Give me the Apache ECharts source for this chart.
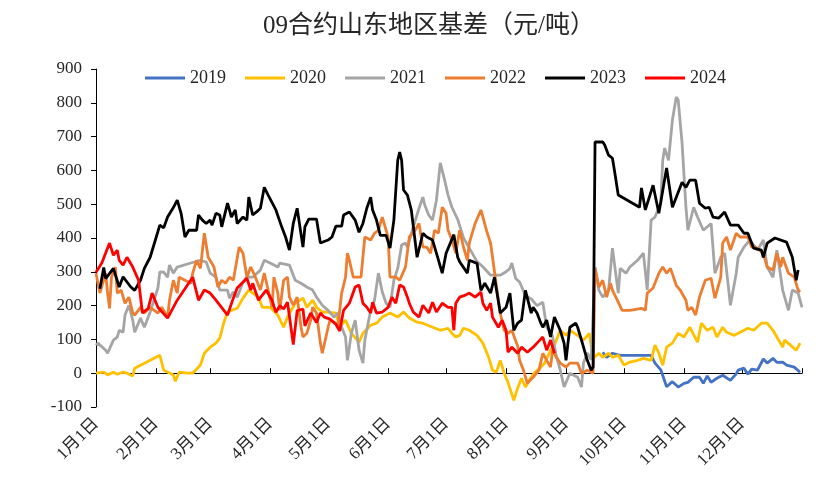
<!DOCTYPE html>
<html><head><meta charset="utf-8">
<script src="https://cdn.jsdelivr.net/npm/echarts@6/dist/echarts.min.js"></script>
<style>html,body{margin:0;padding:0;background:#fff}#c{width:832px;height:496px}</style>
</head><body><div id="c"></div>
<script>
// x = day of year (0 = 1月1日), y = 基差 元/吨
const years = ['2019','2020','2021','2022','2023','2024'];
const colors = ['#4472C4','#FFC000','#A5A5A5','#ED7D31','#000000','#FF0000'];
const monthStarts = [0,31,59,90,120,151,181,212,243,273,304,334];
const tickDays = [0,31,59,90,120,151,181,212,243,273,304,334,365];
const yTicks = [-100,0,100,200,300,400,500,600,700,800,900];

const s2019 = [[262,62],[264,47],[267,59],[271,53],[287,53],[289,30],[292,10],[295,-40],[298,-25],[301,-41],[304,-30],[306,-27],[309,-12],[312,-12],[314,-30],[316,-8],[318,-27],[321,-15],[324,-6],[328,-21],[331,-2],[332,9],[335,15],[337,-3],[339,12],[342,9],[345,42],[347,30],[350,44],[352,32],[355,33],[357,24],[361,18],[364,3]];

const s2020 = [[0,0],[1,-5],[4,3],[6,-5],[9,3],[11,-3],[14,3],[16,0],[19,-8],[20,15],[33,53],[35,9],[40,-5],[41,-24],[43,3],[47,0],[50,0],[54,24],[56,59],[59,77],[62,89],[64,104],[66,148],[68,181],[69,178],[73,192],[76,222],[79,246],[81,237],[84,225],[86,195],[90,195],[94,172],[97,136],[99,166],[103,207],[107,222],[109,195],[112,216],[114,195],[117,181],[120,181],[124,178],[126,136],[129,157],[132,118],[136,92],[138,118],[142,142],[145,148],[148,166],[152,178],[156,166],[159,181],[162,163],[166,151],[169,148],[174,136],[178,127],[182,133],[184,118],[186,107],[188,112],[190,133],[193,127],[197,112],[200,89],[203,47],[205,9],[207,3],[209,38],[211,0],[213,-27],[216,-80],[218,-44],[220,-15],[222,-41],[225,-12],[227,3],[230,18],[232,30],[235,68],[237,83],[240,127],[243,112],[245,127],[249,112],[252,98],[255,118],[257,44],[260,59],[262,47],[265,59],[267,47],[270,53],[273,24],[276,33],[280,38],[283,44],[287,38],[289,83],[291,59],[293,24],[295,77],[298,89],[301,118],[304,107],[307,136],[311,92],[313,148],[316,127],[319,136],[321,107],[324,136],[326,121],[330,112],[333,121],[337,133],[340,127],[344,148],[347,148],[350,127],[352,107],[355,77],[356,98],[359,83],[362,68],[364,89]];

const s2021 = [[0,83],[1,89],[5,68],[6,59],[9,98],[11,107],[12,127],[14,121],[15,172],[17,201],[19,157],[20,121],[23,163],[25,136],[28,181],[32,252],[33,300],[35,299],[37,284],[38,320],[40,296],[42,314],[49,326],[54,334],[57,329],[59,296],[62,284],[64,246],[68,246],[69,222],[71,240],[73,225],[76,269],[78,284],[81,284],[85,305],[87,334],[90,326],[94,314],[95,326],[100,320],[103,275],[106,266],[109,255],[112,246],[114,225],[117,201],[120,186],[123,166],[125,178],[127,136],[129,107],[130,38],[132,118],[134,157],[136,68],[138,30],[139,98],[142,186],[144,216],[146,296],[148,240],[150,207],[152,195],[154,275],[156,310],[158,379],[160,385],[161,373],[164,432],[167,488],[169,521],[170,497],[172,468],[174,453],[176,512],[178,622],[180,577],[182,527],[184,491],[187,455],[190,400],[193,370],[197,330],[200,315],[204,290],[207,290],[209,290],[212,300],[214,310],[215,326],[217,280],[219,270],[222,230],[225,220],[228,200],[231,210],[233,136],[236,110],[238,50],[240,10],[242,-41],[245,0],[249,-12],[251,-41],[252,30],[254,60],[256,40],[258,314],[260,245],[262,225],[265,246],[267,370],[270,237],[271,310],[274,296],[276,314],[280,334],[283,355],[285,246],[287,453],[289,462],[292,503],[293,630],[294,666],[296,630],[298,749],[300,817],[301,808],[303,681],[305,491],[306,423],[309,491],[311,462],[314,423],[318,443],[320,296],[323,343],[325,355],[328,201],[331,296],[332,343],[335,373],[338,394],[342,364],[345,394],[347,314],[350,284],[352,364],[355,246],[358,186],[360,246],[363,237],[365,195]];

const s2022 = [[0,296],[2,237],[5,296],[6,237],[7,192],[8,284],[10,314],[11,237],[13,246],[15,207],[17,225],[19,178],[20,172],[23,195],[25,178],[28,195],[32,178],[34,195],[37,166],[38,216],[40,275],[42,237],[43,284],[46,275],[49,266],[50,296],[52,334],[54,310],[56,414],[58,343],[61,314],[63,255],[65,275],[67,266],[69,284],[71,275],[74,373],[76,355],[78,284],[80,314],[82,290],[85,246],[87,296],[89,246],[91,195],[92,284],[94,237],[95,186],[97,275],[99,284],[100,225],[102,201],[104,225],[106,136],[107,107],[109,118],[111,157],[112,195],[114,178],[116,89],[117,59],[120,136],[121,157],[124,148],[125,136],[127,237],[129,284],[130,355],[131,334],[133,284],[137,284],[139,403],[142,394],[144,414],[146,423],[148,462],[151,403],[152,284],[155,284],[157,275],[160,314],[162,403],[165,423],[167,443],[169,373],[171,373],[173,355],[175,423],[177,414],[179,491],[181,473],[182,423],[184,394],[186,355],[188,423],[190,373],[192,334],[193,385],[196,443],[199,483],[202,420],[204,385],[205,343],[207,260],[209,178],[211,127],[213,118],[215,127],[218,80],[219,38],[221,9],[223,-30],[226,-12],[229,9],[231,59],[233,38],[235,18],[236,68],[238,47],[240,30],[243,18],[245,30],[249,30],[251,0],[254,9],[257,0],[258,310],[260,255],[262,275],[264,225],[266,266],[267,246],[270,210],[272,186],[276,186],[282,192],[284,186],[285,237],[288,252],[291,296],[293,314],[295,296],[297,310],[300,260],[302,246],[305,216],[306,186],[308,195],[310,172],[312,225],[315,275],[318,281],[320,222],[323,284],[324,385],[326,403],[328,364],[331,414],[333,403],[337,403],[339,373],[341,373],[345,355],[347,314],[350,305],[352,355],[354,314],[355,343],[358,296],[361,284],[363,246],[364,240]];

const s2023 = [[2,250],[4,313],[5,280],[6,280],[9,310],[12,255],[14,285],[18,255],[20,245],[23,275],[25,310],[28,343],[31,400],[33,438],[35,430],[37,462],[40,490],[42,512],[44,473],[46,403],[48,423],[52,423],[53,468],[55,453],[57,443],[59,453],[60,438],[62,473],[64,468],[65,433],[68,503],[69,483],[70,462],[72,483],[73,443],[76,462],[78,453],[79,521],[81,468],[83,477],[85,488],[87,550],[89,527],[93,483],[96,433],[98,403],[100,364],[102,443],[104,488],[107,373],[108,433],[110,456],[114,456],[116,385],[120,394],[122,403],[124,435],[127,435],[128,468],[131,477],[134,453],[136,417],[138,443],[140,488],[142,521],[143,483],[145,453],[147,408],[150,408],[152,370],[154,453],[156,630],[157,654],[158,630],[159,542],[161,527],[163,483],[166,343],[169,414],[171,403],[174,394],[176,355],[179,296],[181,355],[185,410],[187,343],[188,330],[192,296],[193,334],[197,325],[199,245],[201,266],[204,237],[206,284],[209,178],[212,195],[214,237],[216,127],[218,148],[220,157],[222,245],[225,178],[226,195],[228,178],[230,148],[231,136],[233,157],[235,107],[237,166],[240,127],[242,89],[243,38],[244,89],[245,136],[248,148],[249,136],[251,98],[254,38],[256,9],[257,18],[258,684],[262,684],[263,675],[265,645],[267,636],[268,601],[270,527],[281,491],[282,548],[284,483],[288,556],[291,473],[295,607],[298,491],[303,565],[305,550],[307,571],[310,571],[312,503],[315,488],[317,491],[319,462],[322,459],[325,477],[328,438],[332,438],[335,414],[337,414],[340,370],[344,364],[345,343],[347,385],[351,400],[357,388],[360,343],[362,275],[363,305]];

const s2024 = [[0,299],[3,326],[7,385],[9,349],[11,364],[12,334],[14,320],[16,343],[19,314],[22,275],[24,178],[27,192],[29,237],[32,195],[37,163],[42,216],[50,284],[53,216],[56,246],[59,237],[62,216],[68,172],[71,222],[73,252],[78,281],[80,246],[81,266],[84,216],[88,246],[91,216],[93,180],[95,200],[97,190],[99,210],[102,85],[104,185],[107,190],[108,140],[111,178],[114,150],[116,178],[118,166],[121,160],[124,145],[126,125],[128,186],[131,207],[134,255],[136,261],[138,207],[140,195],[142,178],[143,210],[145,178],[148,181],[151,195],[153,225],[155,207],[157,261],[159,255],[161,225],[162,207],[164,181],[167,166],[169,201],[172,178],[174,210],[176,181],[179,207],[182,195],[184,195],[185,127],[186,207],[188,225],[191,231],[193,237],[196,225],[199,240],[200,207],[202,186],[204,207],[205,166],[208,136],[210,157],[212,127],[213,62],[215,77],[218,59],[220,77],[223,62],[226,77],[228,89],[231,107],[233,68],[235,98],[237,59]];

const seriesData = [s2019, s2020, s2021, s2022, s2023, s2024];
const FONT = "'Liberation Serif', 'Noto Sans CJK SC', serif";
const TXT = '#262626';

const chart = echarts.init(document.getElementById('c'), null, {renderer: 'canvas'});
chart.setOption({
  animation: false,
  backgroundColor: '#fff',
  title: {
    text: '09合约山东地区基差（元/吨）',
    left: 424, textAlign: 'center', top: 9,
    textStyle: {fontFamily: FONT, fontSize: 25, fontWeight: 'normal', color: TXT}
  },
  legend: {
    data: years, top: 64, left: 140, icon: 'rect', itemWidth: 40, itemHeight: 3, itemGap: 19,
    textStyle: {fontFamily: FONT, fontSize: 18, color: TXT}
  },
  grid: {left: 96, right: 30, top: 69, bottom: 89},
  xAxis: [{
    type: 'value', min: 0, max: 365, position: 'bottom',
    axisLine: {show: false, onZero: false}, axisTick: {show: false}, splitLine: {show: false},
    axisLabel: {
      customValues: monthStarts, rotate: 45, margin: 14,
      fontFamily: FONT, fontSize: 17, color: TXT,
      formatter: v => (monthStarts.indexOf(v) + 1) + '月1日'
    }
  }, {
    type: 'value', min: 0, max: 365, position: 'bottom',
    axisLine: {show: true, onZero: true, lineStyle: {color: '#000', width: 1}},
    axisTick: {show: true, inside: true, length: 5, customValues: tickDays, lineStyle: {color: '#000'}},
    axisLabel: {show: false}, splitLine: {show: false}
  }],
  yAxis: {
    type: 'value', min: -100, max: 900, interval: 100,
    axisLine: {show: true, lineStyle: {color: '#000', width: 1}},
    axisTick: {show: true, length: 5, lineStyle: {color: '#000'}},
    splitLine: {show: false},
    axisLabel: {fontFamily: FONT, fontSize: 17, color: TXT, margin: 14}
  },
  series: years.map((y, i) => ({
    name: y, type: 'line', xAxisIndex: 0, data: seriesData[i],
    showSymbol: false, symbol: 'none',
    lineStyle: {color: colors[i], width: 2.8},
    itemStyle: {color: colors[i]}
  }))
});
</script></body></html>
